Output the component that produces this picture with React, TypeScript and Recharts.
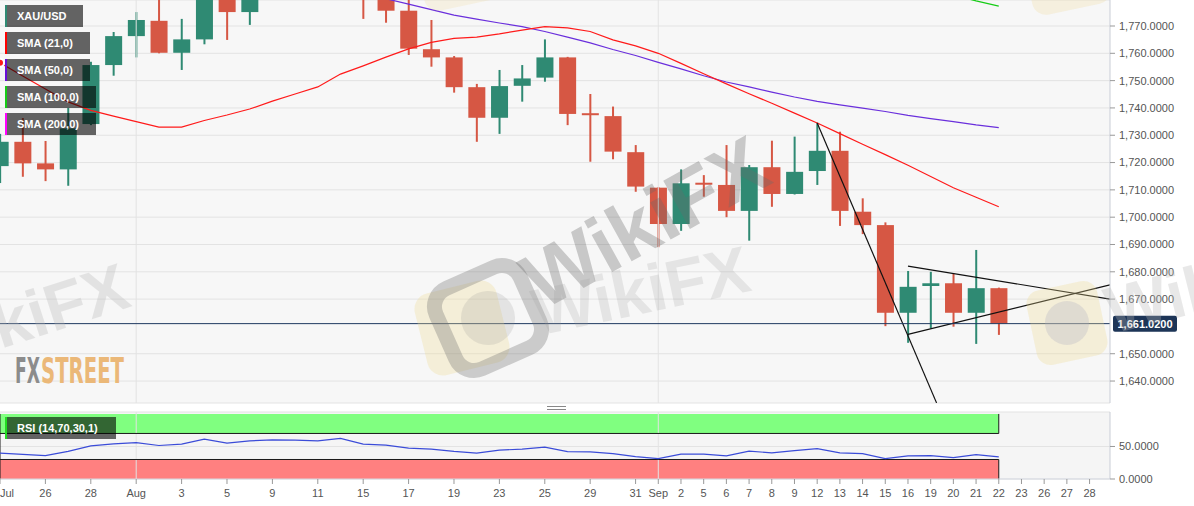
import React from 'react';
import {
  ComposedChart,
  Bar,
  Line,
  XAxis,
  YAxis,
  CartesianGrid,
  ReferenceLine,
  ReferenceArea,
} from 'recharts';

// ---------- DATA ----------
const dates = [
  '2022-07-22', '2022-07-25', '2022-07-26', '2022-07-27', '2022-07-28', '2022-07-29',
  '2022-08-01', '2022-08-02', '2022-08-03', '2022-08-04', '2022-08-05', '2022-08-08',
  '2022-08-09', '2022-08-10', '2022-08-11', '2022-08-12', '2022-08-15', '2022-08-16',
  '2022-08-17', '2022-08-18', '2022-08-19', '2022-08-22', '2022-08-23', '2022-08-24',
  '2022-08-25', '2022-08-26', '2022-08-29', '2022-08-30', '2022-08-31', '2022-09-01',
  '2022-09-02', '2022-09-05', '2022-09-06', '2022-09-07', '2022-09-08', '2022-09-09',
  '2022-09-12', '2022-09-13', '2022-09-14', '2022-09-15', '2022-09-16', '2022-09-19',
  '2022-09-20', '2022-09-21', '2022-09-22',
];

const opens = [
  1718.7, 1727.6, 1719.7, 1717.5, 1734.1, 1755.7, 1766.3, 1771.9, 1760.2, 1765.1,
  1791.0, 1775.1, 1789.0, 1794.0, 1792.0, 1789.0, 1802.0, 1780.5, 1775.6, 1761.5,
  1758.5, 1747.6, 1736.4, 1748.1, 1751.1, 1758.5, 1737.8, 1737.0, 1723.8, 1710.8,
  1697.5, 1712.4, 1711.8, 1702.3, 1718.3, 1708.5, 1716.9, 1724.3, 1702.0, 1697.1,
  1665.0, 1674.8, 1675.8, 1665.0, 1674.0,
];
const highs = [
  1730.5, 1736.3, 1727.9, 1740.0, 1756.9, 1767.8, 1775.1, 1788.0, 1772.6, 1795.0,
  1795.0, 1792.0, 1800.0, 1807.0, 1808.0, 1803.0, 1803.0, 1784.0, 1782.0, 1772.2,
  1759.0, 1748.8, 1753.9, 1755.7, 1765.1, 1758.7, 1745.1, 1740.5, 1726.4, 1711.0,
  1717.5, 1715.4, 1726.4, 1719.1, 1728.0, 1729.5, 1734.6, 1731.3, 1706.9, 1698.1,
  1680.3, 1680.0, 1679.2, 1688.0, 1674.2,
];
const lows = [
  1712.5, 1714.8, 1713.2, 1711.5, 1733.7, 1751.8, 1758.5, 1760.0, 1753.9, 1763.3,
  1764.9, 1770.4, 1784.0, 1782.0, 1784.0, 1786.0, 1772.6, 1771.2, 1759.4, 1755.1,
  1745.6, 1727.6, 1730.5, 1742.3, 1749.6, 1733.7, 1720.3, 1721.2, 1709.3, 1689.0,
  1695.0, 1707.5, 1700.0, 1691.4, 1703.8, 1708.3, 1711.8, 1696.8, 1693.8, 1660.1,
  1654.0, 1659.3, 1659.9, 1653.6, 1656.9,
];
const closes = [
  1727.6, 1719.7, 1717.5, 1732.5, 1755.7, 1766.3, 1772.2, 1760.2, 1765.1, 1791.0,
  1775.1, 1789.0, 1794.0, 1792.0, 1789.0, 1802.0, 1781.0, 1775.6, 1761.7, 1758.5,
  1747.6, 1736.4, 1748.0, 1750.8, 1758.5, 1737.8, 1737.6, 1724.0, 1711.2, 1697.5,
  1712.4, 1712.1, 1702.3, 1718.3, 1708.5, 1716.6, 1724.3, 1702.3, 1697.1, 1665.0,
  1674.5, 1675.8, 1665.0, 1674.0, 1661.02,
];

const sma21 = [
  1756.5, 1751.7, 1746.9, 1742.2, 1739.1, 1737.0, 1735.0, 1733.0, 1733.0, 1735.4,
  1737.4, 1739.6, 1742.5, 1745.1, 1747.7, 1752.4, 1755.4, 1758.6, 1761.6, 1764.0,
  1765.5, 1765.9, 1767.1, 1768.5, 1769.8, 1769.3, 1768.0, 1764.9, 1762.7, 1760.0,
  1756.3, 1752.5, 1748.8, 1745.2, 1741.7, 1738.1, 1734.5, 1730.6, 1726.7, 1722.9,
  1719.0, 1714.9, 1710.8, 1707.3, 1703.8,
];
const sma50 = [
  1815.2, 1813.4, 1811.1, 1809.3, 1807.0, 1805.2, 1803.1, 1801.0, 1799.2, 1797.1,
  1795.0, 1793.2, 1791.1, 1789.0, 1787.1, 1784.5, 1782.0, 1780.0, 1778.0, 1776.0,
  1774.0, 1772.5, 1771.1, 1769.8, 1768.0, 1765.9, 1763.8, 1761.4, 1759.2, 1756.7,
  1754.3, 1751.8, 1749.5, 1747.7, 1745.8, 1744.0, 1742.4, 1741.1, 1739.9, 1738.7,
  1737.3, 1736.1, 1735.0, 1733.8, 1732.8,
];
const sma100 = [
  1858.4, 1856.1, 1854.3, 1852.0, 1849.8, 1847.9, 1845.6, 1843.7, 1841.5, 1839.6,
  1837.2, 1835.4, 1833.1, 1831.3, 1829.0, 1827.2, 1824.9, 1823.1, 1820.8, 1819.0,
  1816.7, 1814.9, 1812.6, 1810.8, 1808.5, 1806.7, 1804.4, 1802.6, 1800.3, 1798.5,
  1796.6, 1795.0, 1793.6, 1792.1, 1790.7, 1789.3, 1788.0, 1786.6, 1785.3, 1784.2,
  1783.3, 1782.4, 1781.3, 1779.2, 1777.3,
];
const sma200 = [
  1868.2, 1867.5, 1866.9, 1866.0, 1865.4, 1864.6, 1863.9, 1863.1, 1862.4, 1861.8,
  1861.0, 1860.3, 1859.7, 1858.8, 1858.2, 1857.4, 1856.7, 1856.0, 1855.1, 1854.5,
  1853.8, 1852.9, 1852.3, 1851.5, 1850.8, 1850.0, 1849.3, 1848.5, 1847.7, 1846.9,
  1846.2, 1845.4, 1844.6, 1843.9, 1843.0, 1842.3, 1841.5, 1840.6, 1839.9, 1839.0,
  1838.2, 1837.4, 1836.5, 1835.8, 1834.9,
];

const rsi = [
  39.7, 38.0, 36.0, 42.5, 51.0, 54.0, 56.0, 51.5, 53.6, 61.3,
  55.2, 58.5, 60.3, 59.8, 58.7, 62.3, 53.6, 52.1, 47.4, 46.0,
  42.5, 39.8, 44.4, 45.9, 49.0, 42.2, 41.7, 39.0, 34.5, 31.4,
  38.2, 38.2, 35.5, 42.8, 40.2, 43.7, 46.8, 40.2, 39.1, 31.4,
  35.5, 36.0, 32.9, 37.6, 34.0,
];

const lastPrice = 1661.02;

// x-axis tick positions (trading-day index) and their labels
const axisTickIndex = [
  0, 2, 4, 6, 8, 10, 12, 14, 16, 18, 20, 22, 24, 26, 28, 29, 30, 31, 32, 33, 34,
  35, 36, 37, 38, 39, 40, 41, 42, 43, 44, 45, 46, 47, 48,
];
const axisTickLabels = [
  'Jul', '26', '28', 'Aug', '3', '5', '9', '11', '15', '17', '19', '23', '25', '29', '31', 'Sep',
  '2', '5', '6', '7', '8', '9', '12', '13', '14', '15', '16', '19', '20', '21', '22', '23', '26',
  '27', '28',
];
const monthStartIndex = [6, 29];

// 1,660 is covered by the last-price tag in the reference
const priceTicks = [1640, 1650, 1670, 1680, 1690, 1700, 1710, 1720, 1730, 1740, 1750, 1760, 1770];
const priceDomain = [1631.96, 1779.52];
const rsiTicks = [0, 50];
const xDomain = [0, 48.9];

// drawn trend lines: [startIndex, startPrice, endIndex, endPrice]
const trendLines = [
  [36, 1734.5, 41.26, 1632.0],
  [40, 1682.1, 48.9, 1670.0],
  [40, 1657.1, 48.9, 1675.2],
];

const legendNames = ['XAU/USD', 'SMA (21,0)', 'SMA (50,0)', 'SMA (100,0)', 'SMA (200,0)'];

// ---------- TABLES ----------
const table = dates.map((d, i) => ({
  i,
  date: d,
  open: opens[i],
  high: highs[i],
  low: lows[i],
  close: closes[i],
  range: [lows[i], highs[i]],
  sma21: sma21[i],
  sma50: sma50[i],
  sma100: sma100[i],
  sma200: sma200[i],
  rsi: rsi[i],
}));
const lastIndex = table.length - 1;

// ---------- STYLE ----------
const GREEN = '#2f8a73';
const RED = '#d65744';
const FONT = '"Liberation Sans", Arial, Helvetica, sans-serif';
const legendColors = ['#2f8a73', '#ff0000', '#6a0fd8', '#16cc16', '#ff00ff'];
const legendWidths = [78, 85, 85, 91, 91];

const fmt4 = (v: number) =>
  v.toLocaleString('en-US', { minimumFractionDigits: 4, maximumFractionDigits: 4 });

function Candle(props: any) {
  const { x, y, width, height, payload } = props;
  if (!payload || payload.open == null || !isFinite(y) || !isFinite(height)) return null;
  const { open, close, high, low } = payload;
  const k = height / (high - low || 1);
  const color = close >= open ? GREEN : RED;
  let top = y + (high - Math.max(open, close)) * k;
  let bh = Math.abs(close - open) * k;
  if (bh < 2) {
    top = top + bh / 2 - 1;
    bh = 2;
  }
  const cx = x + width / 2;
  return (
    <g>
      <rect x={cx - 1} y={y} width={2} height={height} fill={color} />
      <rect x={x} y={top} width={width} height={bh} fill={color} />
    </g>
  );
}

const PriceTag = (props: any) => {
  const vb = props.viewBox || {};
  const x0 = (vb.x || 0) + (vb.width || 0) + 3;
  const y0 = vb.y || 0;
  return (
    <g>
      <rect x={x0} y={y0 - 8} width={64} height={16} rx={2} fill="#1d3557" />
      <text
        x={x0 + 32}
        y={y0 + 4}
        textAnchor="middle"
        fill="#ffffff"
        fontSize={11}
        fontWeight="bold"
        fontFamily={FONT}
      >
        {fmt4(lastPrice)}
      </text>
    </g>
  );
};

const XTick = (props: any) => {
  const { x, y, payload } = props;
  const idx = axisTickIndex.indexOf(payload.value);
  const label = idx >= 0 ? axisTickLabels[idx] : '';
  const anchor = idx === 0 ? 'start' : 'middle';
  return (
    <text x={x} y={y} dy={10.5} textAnchor={anchor} fill="#555" fontSize={11} fontFamily={FONT}>
      {label}
    </text>
  );
};

const yTickStyle = { fill: '#555', fontSize: 11, fontFamily: FONT };

export default function App() {
  return (
    <div
      style={{
        position: 'absolute',
        left: 0,
        top: 0,
        width: 1194,
        height: 506,
        background: '#ffffff',
        fontFamily: FONT,
        overflow: 'hidden',
      }}
    >
      {/* main price panel */}
      <div style={{ position: 'absolute', left: 0, top: 0 }}>
        <ComposedChart
          width={1194}
          height={404}
          data={table}
          margin={{ top: 0, right: 0, bottom: 1, left: 0 }}
        >
          <CartesianGrid vertical={false} stroke="#e3e3e3" fill="#f7f7f7" />
          <XAxis
            dataKey="i"
            type="number"
            domain={xDomain}
            allowDataOverflow
            height={0}
            tick={false}
            tickLine={false}
            axisLine={{ stroke: '#d5d9e2' }}
          />
          <XAxis
            xAxisId="top"
            orientation="top"
            dataKey="i"
            type="number"
            domain={xDomain}
            allowDataOverflow
            height={0}
            tick={false}
            tickLine={false}
            axisLine={{ stroke: '#d5d9e2' }}
          />
          <YAxis
            orientation="right"
            width={84}
            domain={priceDomain}
            allowDataOverflow
            ticks={priceTicks}
            interval={0}
            tickFormatter={fmt4}
            tick={yTickStyle}
            tickSize={5}
            tickMargin={4}
            tickLine={{ stroke: '#999' }}
            axisLine={{ stroke: '#c9cdd6' }}
          />
          {monthStartIndex.map((m) => (
            <ReferenceLine key={'m' + m} x={m} stroke="#e3e3e3" />
          ))}
          <Bar dataKey="range" barSize={17} shape={Candle} isAnimationActive={false} />
          <Line dataKey="sma200" stroke="#ff00ff" strokeWidth={1.2} dot={false} isAnimationActive={false} />
          <Line dataKey="sma100" stroke="#16cc16" strokeWidth={1.2} dot={false} isAnimationActive={false} />
          <Line dataKey="sma50" stroke="#6a2fdc" strokeWidth={1.2} dot={false} isAnimationActive={false} />
          <Line dataKey="sma21" stroke="#ff1a1a" strokeWidth={1.2} dot={false} isAnimationActive={false} />
          {trendLines.map((t, k) => (
            <ReferenceLine
              key={'t' + k}
              segment={[
                { x: t[0], y: t[1] },
                { x: t[2], y: t[3] },
              ]}
              stroke="#111"
              strokeWidth={1.2}
              ifOverflow="hidden"
            />
          ))}
          <ReferenceLine y={lastPrice} stroke="#1f3a60" strokeWidth={1} label={PriceTag} />
        </ComposedChart>
      </div>

      {/* RSI panel */}
      <div style={{ position: 'absolute', left: 0, top: 404 }}>
        <ComposedChart
          width={1194}
          height={102}
          data={table}
          margin={{ top: 8, right: 0, bottom: 0, left: 0 }}
        >
          <CartesianGrid vertical={false} stroke="#e3e3e3" fill="#f5f5f5" />
          <XAxis
            dataKey="i"
            type="number"
            domain={xDomain}
            allowDataOverflow
            ticks={axisTickIndex}
            interval={0}
            height={27}
            tick={XTick}
            tickSize={5}
            tickMargin={2}
            tickLine={{ stroke: '#999' }}
            axisLine={{ stroke: '#d5d9e2' }}
          />
          <XAxis
            xAxisId="top"
            orientation="top"
            dataKey="i"
            type="number"
            domain={xDomain}
            allowDataOverflow
            height={0}
            tick={false}
            tickLine={false}
            axisLine={{ stroke: '#d5d9e2' }}
          />
          <YAxis
            orientation="right"
            width={84}
            domain={[0, 103]}
            allowDataOverflow
            ticks={rsiTicks}
            interval={0}
            tickFormatter={fmt4}
            tick={yTickStyle}
            tickSize={5}
            tickMargin={4}
            tickLine={{ stroke: '#999' }}
            axisLine={{ stroke: '#c9cdd6' }}
          />
          {monthStartIndex.map((m) => (
            <ReferenceLine key={'rm' + m} x={m} stroke="#e3e3e3" />
          ))}
          <ReferenceArea x1={0} x2={lastIndex} y1={70} y2={100} fill="#80ff80" fillOpacity={1} stroke="none" />
          <ReferenceArea x1={0} x2={lastIndex} y1={0} y2={30} fill="#ff8080" fillOpacity={1} stroke="none" />
          <ReferenceLine segment={[{ x: 0, y: 70 }, { x: lastIndex, y: 70 }]} stroke="#1a1a1a" />
          <ReferenceLine segment={[{ x: lastIndex, y: 70 }, { x: lastIndex, y: 100 }]} stroke="#1a1a1a" />
          <ReferenceLine segment={[{ x: 0, y: 30 }, { x: lastIndex, y: 30 }]} stroke="#1a1a1a" />
          <ReferenceLine segment={[{ x: lastIndex, y: 0 }, { x: lastIndex, y: 30 }]} stroke="#1a1a1a" />
          <ReferenceLine segment={[{ x: 0, y: 0 }, { x: 0, y: 100 }]} stroke="#1a1a1a" />
          <Line dataKey="rsi" stroke="#3b4cd8" strokeWidth={1.2} dot={false} isAnimationActive={false} />
        </ComposedChart>
      </div>

      {/* overlays: watermarks, legend, logo */}
      <svg
        width={1194}
        height={506}
        style={{ position: 'absolute', left: 0, top: 0, pointerEvents: 'none' }}
        fontFamily={FONT}
      >
        {/* WikiFX watermarks */}
        <rect x={-42} y={-42} width={84} height={84} rx={16} transform="translate(462 328) rotate(-14)" fill="#f0d993" opacity={0.3} />
        <g transform="translate(488 318) rotate(-24)" opacity={0.32}>
          <rect x={-46} y={-44} width={92} height={88} rx={20} fill="none" stroke="#707070" strokeWidth={15} />
          <circle r={27} fill="#8a8a8a" opacity={0.55} />
        </g>
        <text
          x={648}
          y={228}
          transform="rotate(-29 648 228)"
          textAnchor="middle"
          dominantBaseline="middle"
          fontSize={80}
          fontWeight="bold"
          fill="#6a6a6a"
          opacity={0.33}
        >
          WikiFX
        </text>
        <text
          x={642}
          y={296}
          transform="rotate(-12 642 296)"
          textAnchor="middle"
          dominantBaseline="middle"
          fontSize={66}
          fontWeight="bold"
          fill="#9a9a9a"
          opacity={0.2}
        >
          WikiFX
        </text>
        <text
          x={133}
          y={306}
          transform="rotate(-18 133 306)"
          textAnchor="end"
          fontSize={66}
          fontWeight="bold"
          fill="#b5b5b5"
          opacity={0.3}
        >
          WikiFX
        </text>
        <rect x={-36} y={-38} width={72} height={76} rx={14} transform="translate(1067 323) rotate(-12)" fill="#f0d993" opacity={0.3} />
        <circle cx={1067} cy={323} r={22} fill="#b0b0c0" opacity={0.3} />
        <text
          x={1112}
          y={334}
          transform="rotate(-14 1112 334)"
          fontSize={66}
          fontWeight="bold"
          fill="#b5b5b5"
          opacity={0.3}
        >
          WikiFX
        </text>
        <rect x={-40} y={-40} width={80} height={80} rx={14} transform="translate(1066 -30) rotate(-12)" fill="#f0d993" opacity={0.25} />
        <rect x={-40} y={-40} width={80} height={80} rx={14} transform="translate(458 -34) rotate(-12)" fill="#f0d993" opacity={0.2} />

        {/* FXSTREET logo */}
        <text x={15} y={383} fontSize={35} fontWeight="bold" fill="#8c8c8c" textLength={25} lengthAdjust="spacingAndGlyphs" fontFamily='"DejaVu Sans Condensed", "DejaVu Sans", sans-serif'>
          FX
        </text>
        <text x={41} y={383} fontSize={35} fontWeight="bold" fill="#ebb878" textLength={83} lengthAdjust="spacingAndGlyphs" fontFamily='"DejaVu Sans Condensed", "DejaVu Sans", sans-serif'>
          STREET
        </text>

        {/* legend */}
        {legendNames.map((name, k) => (
          <g key={name}>
            <rect x={5} y={5 + k * 27} width={legendWidths[k]} height={22} fill="rgba(0,0,0,0.6)" />
            <rect x={5} y={5 + k * 27} width={2} height={22} fill={legendColors[k]} />
            <text x={17} y={20 + k * 27} fill="#ffffff" fontSize={11} fontWeight="bold">
              {name}
            </text>
          </g>
        ))}

        {/* RSI label */}
        <rect x={5} y={417} width={111} height={22} fill="rgba(0,0,0,0.6)" />
        <rect x={5} y={417} width={2} height={22} fill="#22dd22" />
        <text x={17} y={432} fill="#ffffff" fontSize={11} fontWeight="bold">
          RSI (14,70,30,1)
        </text>

        {/* panel splitter */}
        <line x1={547} x2={566} y1={406.5} y2={406.5} stroke="#888" />
        <line x1={547} x2={566} y1={409.5} y2={409.5} stroke="#888" />
      </svg>
    </div>
  );
}
